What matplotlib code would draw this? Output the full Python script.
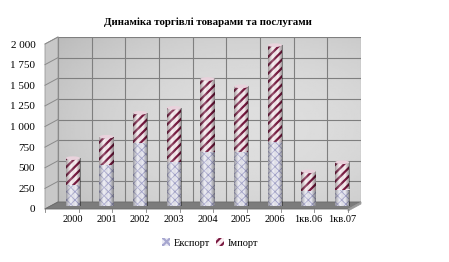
import numpy as np
import matplotlib
matplotlib.use("Agg")
import matplotlib.pyplot as plt
import matplotlib.transforms as mtrans
from matplotlib.patches import Polygon, Ellipse
from matplotlib.colors import LinearSegmentedColormap

categories = ["2000", "2001", "2002", "2003", "2004", "2005", "2006", "1кв.06", "1кв.07"]
export_vals = [260, 500, 760, 530, 650, 650, 770, 180, 200]
import_vals = [320, 340, 370, 660, 890, 800, 1180, 240, 330]
y_ticks = [0, 250, 500, 750, 1000, 1250, 1500, 1750, 2000]
y_tick_labels = ["0", "250", "500", "750", "1 000", "1 250", "1 500", "1 750", "2 000"]
title = "Динаміка торгівлі товарами та послугами"
series_names = ["Експорт", "Імпорт"]

W, H = 449, 262
fig = plt.figure(figsize=(W / 100, H / 100), dpi=100)
fig.patch.set_facecolor("white")
serif = ["Liberation Serif", "DejaVu Serif"]

# geometry in pixels
fx0, fx1, fy0, fy1 = 45, 348, 209, 44   # front plane
dx, dy = 13, 7                            # depth offset
xlim = (-0.65, 8.35)
ylim = (0, 2000)

def fr(x, y, w, h):
    return [x / W, 1 - (y + h) / H, w / W, h / H]

# back wall axes
wall = fig.add_axes(fr(fx0 + dx, fy1 - dy, fx1 - fx0, fy0 - fy1), zorder=0)
wall.set_xlim(xlim)
wall.set_ylim(ylim)
yy, xx = np.mgrid[0:1:100j, 0:1:200j]
shade = 0.87 - 0.17 * np.clip(((xx - 0.65) ** 2 * 1.2 + (yy - 0.45) ** 2), 0, 1)
wall.imshow(shade, extent=(xlim[0], xlim[1], ylim[0], ylim[1]), aspect="auto",
            cmap="gray", vmin=0, vmax=1, origin="lower", zorder=0)
for t in y_ticks:
    wall.axhline(t, color="#7f7f7f", lw=0.8, zorder=1)
for k in range(10):
    wall.axvline(xlim[0] + k, color="#7f7f7f", lw=0.8, zorder=1)
wall.set_axis_off()

def P(x, y):
    return (x / W, 1 - y / H)

side = Polygon([P(fx0, fy0), P(fx0, fy1), P(fx0 + dx, fy1 - dy), P(fx0 + dx, fy0 - dy)],
               closed=True, transform=fig.transFigure, facecolor="#c8c8c8",
               edgecolor="#9a9a9a", lw=0.6, zorder=1)
fig.add_artist(side)
for t in y_ticks:
    yp = fy0 - (t / 2000) * (fy0 - fy1)
    fig.add_artist(plt.Line2D([fx0 / W, (fx0 + dx) / W], [1 - yp / H, 1 - (yp - dy) / H],
                              transform=fig.transFigure, color="#8a8a8a", lw=0.7, zorder=1))
floor = Polygon([P(fx0, fy0), P(fx1, fy0), P(fx1 + dx, fy0 - dy), P(fx0 + dx, fy0 - dy)],
                closed=True, transform=fig.transFigure, facecolor="#7c7c7c",
                edgecolor="#6a6a6a", lw=0.6, zorder=1)
fig.add_artist(floor)
fig.add_artist(Polygon([P(fx1, fy0), P(fx1 + dx, fy0 - dy), P(fx1 + dx, fy0 - dy + 2), P(fx1, fy0 + 2)],
                       closed=True, transform=fig.transFigure, facecolor="#9a9a9a",
                       edgecolor="#9a9a9a", lw=0.5, zorder=1))
for k in range(10):
    xp = fx0 + k * (fx1 - fx0) / 9
    fig.add_artist(plt.Line2D([xp / W, xp / W], [1 - fy0 / H, 1 - (fy0 + 3) / H],
                              transform=fig.transFigure, color="#808080", lw=0.6, zorder=1))

# main data axes (mid-depth)
ox, oy = 6, 3
ax = fig.add_axes(fr(fx0 + ox, fy1 - oy, fx1 - fx0, fy0 - fy1), zorder=2)
ax.set_xlim(xlim)
ax.set_ylim(ylim)
ax.patch.set_alpha(0)
for s in ax.spines.values():
    s.set_visible(False)

x = np.arange(len(categories))
bw = 0.42

plt.rcParams["hatch.linewidth"] = 0.6
b1 = ax.bar(x, export_vals, bw, color="#ececf6", edgecolor="#a7a7d0", hatch="xxxx",
            linewidth=0, zorder=3, label=series_names[0])
plt.rcParams["hatch.linewidth"] = 1.6
b2 = ax.bar(x, import_vals, bw, bottom=export_vals, color="#fbeef2", edgecolor="#7a1a42",
            hatch="////", linewidth=0, zorder=3, label=series_names[1])

cyl = LinearSegmentedColormap.from_list(
    "cyl", [(0, 0, 0, 0.35), (1, 1, 1, 0.25), (0, 0, 0, 0.0), (0, 0, 0, 0.45)])
grad = np.linspace(0, 1, 64).reshape(1, -1)
for bars in (b1, b2):
    for r in bars:
        x0, y0 = r.get_x(), r.get_y()
        im = ax.imshow(grad, extent=(x0, x0 + r.get_width(), y0, y0 + r.get_height()),
                       aspect="auto", cmap=cyl, zorder=4)
        im.set_clip_path(r)
eh = 22
for r in b2:
    top = r.get_y() + r.get_height()
    ax.add_patch(Ellipse((r.get_x() + bw / 2, top), bw, eh * 2, facecolor="#e9d2dc",
                         edgecolor="none", zorder=5))

ax.set_yticks(y_ticks)
ax.set_yticklabels(y_tick_labels, fontfamily=serif, fontsize=8)
ax.tick_params(axis="y", length=0, pad=7)
ax.set_xticks(x)
ax.set_xticklabels(categories, fontfamily=serif, fontsize=7.5)
ax.tick_params(axis="x", length=0, pad=6)
ax.set_xlim(xlim)
ax.set_ylim(ylim)
off_y = mtrans.ScaledTranslation(-ox / 100, -oy / 100, fig.dpi_scale_trans)
for lab in ax.get_yticklabels():
    lab.set_transform(lab.get_transform() + off_y)
off_x = mtrans.ScaledTranslation(-ox / 100 + 0.0, 0, fig.dpi_scale_trans)
for lab in ax.get_xticklabels():
    lab.set_transform(lab.get_transform() + mtrans.ScaledTranslation(0, -0.01, fig.dpi_scale_trans))

fig.text(208 / W, 1 - 22 / H, title, ha="center", va="center", fontfamily=serif,
         fontweight="bold", fontsize=7.8)

fig.legend(handles=[b1, b2], labels=series_names, loc="center",
           bbox_to_anchor=(210 / W, 1 - 243 / H), ncol=2, frameon=False,
           prop={"family": serif, "size": 7.5}, handlelength=0.8, handleheight=0.8,
           handletextpad=0.3, columnspacing=0.6)

fig.savefig("out.png", dpi=100, facecolor="white")
